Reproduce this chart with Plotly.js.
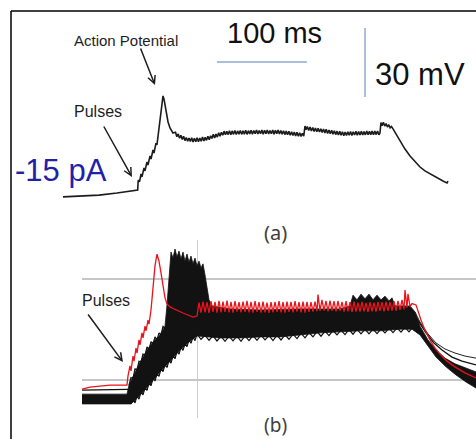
<!DOCTYPE html>
<html><head><meta charset="utf-8">
<script src="https://cdn.plot.ly/plotly-3.0.1.min.js"></script>
<style>html,body{margin:0;padding:0;background:#fff;}#chart{width:476px;height:439px;}</style>
</head><body><div id="chart"></div>
<script>
// ---------- Panel (a): single recording, [time (ms), membrane potential (mV)]
const aRecording = [
 [0,-70.4],[20,-70.0],[40,-69.6],[60,-68.7],[80,-67.8],[83,-67.4],[83.5,-63.5],[83.9,-63.0],[85.0,-63.9],[86.7,-60.4],[87.8,-61.7],
 [90.0,-57.8],[91.1,-59.1],[93.3,-55.2],[94.4,-56.5],[96.7,-52.6],[97.8,-53.9],[100,-50.0],[101.1,-51.3],[103.3,-47.0],[104.4,-47.8],
 [105.6,-43.5],[107.8,-36.1],[110,-29.1],[111.1,-26.5],[112.2,-27.8],[114.4,-33.5],[116.7,-37.8],[118.9,-40.4],[122.2,-42.6],
 [125,-42.3],[126.5,-44.2],[128,-43.0],[129.5,-44.9],[131,-43.6],[132.5,-45.4],[134,-44.0],[135.5,-45.9],[137,-44.6],[138.5,-46.2],
 [140,-44.8],[141.5,-46.3],[143,-44.7],[144.5,-46.5],[146,-44.9],[147.5,-46.4],[149,-44.7],[150.5,-46.4],[152,-44.8],[153.5,-46.2],
 [155,-44.4],[156.5,-46.1],[158,-44.5],[159.5,-45.8],[161,-44.0],[162.5,-45.5],[164,-43.8],[165.5,-45.0],[167,-43.2],[168.5,-44.8],
 [170,-43.1],[171.5,-44.4],[173,-42.5],[174.5,-44.0],[176,-42.3],[177.5,-43.6],[179,-41.8],[180.5,-43.4],[182,-41.9],[183.5,-43.3],
 [185,-41.6],[186.5,-43.4],[188,-41.7],[189.5,-43.2],[191,-41.5],[192.5,-43.3],[194,-41.7],[195.5,-43.1],[197,-41.5],[198.5,-43.2],
 [200,-41.7],[201.5,-43.1],[203,-41.4],[204.5,-43.2],[206,-41.6],[207.5,-43.0],[209,-41.4],[210.5,-43.1],[212,-41.5],[213.5,-42.9],
 [215,-41.3],[216.5,-43.0],[218,-41.5],[219.5,-42.9],[221,-41.3],[222.5,-43.1],[224,-41.4],[225.5,-42.9],[227,-41.3],[228.5,-43.0],
 [230,-41.5],[231.5,-42.9],[233,-41.3],[234.5,-43.1],[236,-41.4],[237.5,-42.9],[239,-41.3],[240.5,-43.0],[242,-41.5],[243.5,-43.1],
 [245,-41.6],[246.5,-43.3],[248,-41.8],[249.5,-43.4],[251,-41.9],[252.5,-43.6],[254,-42.1],[255.5,-43.7],[257,-42.2],[258.5,-43.9],
 [260,-42.3],[261.5,-44.0],[263,-42.5],[264.5,-44.1],[266,-42.7],[267.5,-44.0],[268.9,-39.6],
 [270,-41.2],[271.5,-39.8],[273,-41.5],[274.5,-40.0],[276,-41.7],[277.5,-40.2],[279,-41.9],[280.5,-40.5],[282,-42.1],[283.5,-40.6],
 [285,-42.2],[286.5,-40.8],[288,-42.4],[289.5,-40.9],[291,-42.6],[292.5,-41.0],[294,-42.8],[295.5,-41.3],[297,-42.9],[298.5,-41.4],
 [300,-43.1],[301.5,-41.6],[303,-43.3],[304.5,-41.8],[306,-43.5],[307.5,-41.9],[309,-43.6],[310.5,-42.1],[312,-43.8],[313.5,-42.2],
 [315,-43.7],[316.5,-42.1],[318,-43.6],[319.5,-42.0],[321,-43.7],[322.5,-42.1],[324,-43.5],[325.5,-41.9],[327,-43.6],[328.5,-42.0],
 [330,-43.5],[331.5,-41.9],[333,-43.5],[334.5,-42.0],[336,-43.4],[337.5,-41.8],[339,-43.4],[340.5,-41.9],[342,-43.3],[343.5,-41.8],
 [345,-43.4],[346.5,-41.8],[348,-43.3],[349.5,-41.7],[351,-43.4],[352.2,-42.6],
 [353.3,-38.1],[354.5,-39.4],[356,-38.0],[357.5,-39.6],[359,-38.5],[360.5,-40.0],[362,-39.0],[363.5,-40.4],[365,-39.8],[366.7,-40.8],
 [370,-43.0],[374.4,-46.1],[380,-49.6],[385.6,-52.6],[391.1,-55.2],[396.7,-57.4],[402.2,-59.1],[407.8,-60.4],[415.6,-62.2],[422.2,-63.5],[426.7,-64.3],[427.8,-63.5]
];

// Scale bars of panel (a)
const scaleMs = 100;
const scaleMv = 30;

// ---------- Panel (b): overlaid recordings, highlighted (red) recording
const redRecording = [
 [35,-67.7],[43,-67.1],[53,-66.8],[63,-66.5],[80,-66.5],[81,-63.8],[83,-60.8],[84,-62.3],[86,-57.9],[87,-59.4],[89,-55.5],[90,-57.0],
 [92,-53.1],[93,-54.6],[95,-51.0],[96,-52.5],[98,-49.0],[99,-50.4],[101,-47.2],[102,-48.4],[104,-44.2],[106,-38.3],[108,-31.1],[110,-27.6],
 [112,-29.7],[114,-33.2],[116,-37.7],[118,-40.6],[120,-42.4],[123,-43.3],[127,-43.9],[131,-44.5],[136,-45.1],[141,-45.7],[146,-46.3],[150,-46.0],
 [152,-42.0],[154,-45.0],[156,-41.7],[158,-44.9],[160,-41.9],[162,-45.1],[164,-41.6],[166,-44.8],[168,-41.8],[170,-45.0],[172,-41.5],[174,-44.9],
 [176,-41.7],[178,-44.8],[180,-41.4],[182,-44.9],[184,-41.8],[186,-45.0],[188,-41.6],[190,-44.7],[192,-41.9],[194,-44.9],[196,-41.7],[198,-44.8],
 [200,-41.5],[202,-44.9],[204,-41.8],[206,-45.0],[208,-41.6],[210,-44.8],[212,-41.9],[214,-45.0],[216,-41.7],[218,-44.9],[220,-42.0],[222,-45.1],
 [224,-41.9],[226,-44.9],[228,-41.8],[230,-44.8],[232,-41.6],[234,-44.9],[236,-41.9],[238,-45.0],[240,-41.7],[242,-44.8],[244,-41.8],[246,-44.9],
 [248,-41.6],[250,-44.7],[252,-41.9],[254,-44.9],[256,-41.7],[258,-45.0],[260,-41.8],[262,-44.8],[264,-41.9],[266,-44.7],[268,-41.7],[270,-44.6],
 [271,-39.6],[273,-44.5],[275,-41.2],[277,-44.4],[279,-41.5],[281,-44.6],[283,-41.4],[285,-44.5],[287,-41.6],[289,-44.6],[291,-41.5],[293,-44.5],
 [295,-41.8],[297,-44.7],[299,-41.6],[301,-44.6],[303,-41.9],[305,-44.8],[307,-41.7],[309,-44.7],[311,-42.0],[313,-44.7],[315,-41.8],[317,-44.6],
 [319,-42.1],[321,-44.8],[323,-41.9],[325,-44.6],[327,-42.0],[329,-44.7],[331,-41.8],[333,-44.5],[335,-41.9],[337,-44.6],[339,-41.7],[341,-44.5],
 [343,-41.8],[345,-44.4],[347,-41.6],[349,-44.4],[351,-41.5],[353,-44.2],[355,-41.2],[357,-44.0],[358,-38.3],[360,-43.5],[361,-39.4],[363,-43.2],[365,-42.3],
 [369,-42.7],[371,-44.8],[374,-47.2],[378,-50.2],[383,-53.1],[388,-55.5],[393,-57.3],[400,-59.4],[408,-61.1],[418,-62.9],[429,-64.4]
];

// envelope of the black bundle of recordings (upper edge left->right, lower edge right->left)
const bundleTime = [35,80,82,88,93,100,106,113,118,120,122,124,126,128,130,132,134,136,138,140,142,144,146,148,150,152,154,156,158,160,162,165,183,213,253,293,303,306,310,314,318,322,326,330,334,338,342,345,348,363,368,373,381,389,398,408,418,429,
 429,419,409,399,389,381,373,365,353,333,313,293,273,253,233,213,193,173,158,150,143,133,123,113,103,93,84,35];
const bundleVolt = [-69.2,-69.2,-66.5,-62.6,-59.7,-56.1,-53.7,-51.6,-49.0,-42.7,-33.8,-27.0,-28.8,-26.1,-28.5,-26.7,-29.1,-27.0,-29.7,-27.6,-30.0,-28.2,-30.5,-28.8,-31.1,-29.7,-31.7,-30.5,-33.8,-38.3,-41.2,-43.0,-43.9,-44.2,-43.9,-43.9,-43.0,-39.8,-41.2,-39.5,-40.9,-39.5,-41.2,-39.8,-41.2,-40.1,-41.5,-40.6,-43.0,-43.0,-44.8,-49.0,-53.1,-56.1,-58.5,-60.2,-61.4,-62.6,
 -67.4,-65.6,-63.5,-61.1,-58.2,-54.9,-51.6,-49.9,-49.9,-50.4,-50.4,-50.7,-51.0,-51.6,-52.2,-52.2,-52.5,-52.5,-52.2,-51.9,-53.4,-56.1,-59.4,-62.6,-66.2,-69.5,-72.1,-72.1];

// ragged lower edge of the plateau bundle
const edgeTime = [150,154,158,162,166,170,174,178,182,186,190,194,198,202,206,210,214,218,222,226,230,234,238,242,246,250,254,258,262,266,270,274,278,282,286,290,294,298,302,306,310,314,318,322,326,330,334,338,342,346,350,354,358,362,365];
const edgeVolt = [-51.4,-52.9,-51.7,-53.2,-51.9,-53.4,-52.0,-53.5,-52.0,-53.4,-52.0,-53.5,-51.9,-53.3,-51.8,-53.2,-51.7,-53.1,-51.8,-53.3,-51.7,-53.1,-51.6,-52.9,-51.4,-52.7,-51.1,-52.5,-50.9,-52.2,-50.6,-52.0,-50.5,-51.8,-50.3,-51.6,-50.2,-51.5,-50.0,-51.4,-49.9,-51.3,-49.9,-51.3,-49.9,-51.2,-49.8,-51.0,-49.6,-50.9,-49.5,-50.8,-49.4,-50.7,-49.6];

// ragged edges of the rising part of the bundle (pulse ripples)
const riseLowTime = [84,86,88,90,92,94,96,98,100,102,104,106,108,110,112,114,116,118,120,122,124,126,128,130,132,134,136,138,140,142,144,146,148,150];
const riseLowVolt = [-72.1,-70.9,-71.8,-69.8,-70.7,-68.6,-69.4,-67.3,-68.1,-65.9,-66.7,-64.5,-65.3,-63.1,-63.9,-61.7,-62.5,-60.4,-61.3,-59.1,-60.0,-57.8,-58.7,-56.5,-57.3,-55.2,-56.2,-54.2,-55.1,-53.1,-54.1,-52.2,-53.3,-51.4];
const riseHighTime = [82,84,86,88,90,92,94,96,98,100,102,104,106,108,110,112,114,116,118];
const riseHighVolt = [-66.5,-64.3,-64.5,-61.7,-62.0,-59.4,-59.8,-57.3,-57.7,-55.2,-55.9,-53.6,-54.3,-52.2,-53.1,-51.0,-51.7,-49.1,-49.6];

// separate black recordings
const baseTime = [35,60,81];
const baseVolt = [-68.0,-67.9,-67.8];
const decayATime = [363,368,373,381,389,398,408,418,429];
const decayAVolt = [-43.3,-44.8,-47.8,-51.3,-54.0,-55.8,-57.0,-57.9,-58.5];
const decayBTime = [363,371,379,387,395,405,415,429];
const decayBVolt = [-43.6,-47.2,-51.0,-54.0,-56.1,-58.2,-59.4,-60.5];

// ---------- layout helpers (pixel -> paper)
const W = 476, H = 439;
const P = px => px / W;
const Q = py => 1 - py / H;
const FONT = 'Liberation Sans, Arial, sans-serif';

const aTime = aRecording.map(p => p[0]), aVolt = aRecording.map(p => p[1]);
const redTime = redRecording.map(p => p[0]), redVolt = redRecording.map(p => p[1]);

const blk = (x, y, w, c) => ({x, y, xaxis:'x2', yaxis:'y2', mode:'lines', line:{color:c || '#111', width:w}, hoverinfo:'skip'});

const traces = [
  {x: aTime, y: aVolt, xaxis:'x', yaxis:'y', mode:'lines', line:{color:'#1c1c1c', width:1.6}, hoverinfo:'skip'},
  {x: bundleTime, y: bundleVolt, xaxis:'x2', yaxis:'y2', mode:'lines', fill:'toself', fillcolor:'#121212', line:{color:'#121212', width:0.8}, hoverinfo:'skip'},
  blk(edgeTime, edgeVolt, 1.2),
  blk(riseLowTime, riseLowVolt, 1.2),
  blk(riseHighTime, riseHighVolt, 1.2),
  blk(baseTime, baseVolt, 1.2),
  blk(decayATime, decayAVolt, 1, '#222'),
  blk(decayBTime, decayBVolt, 1.3),
  {x: redTime, y: redVolt, xaxis:'x2', yaxis:'y2', mode:'lines', line:{color:'#e8141c', width:1.3}, hoverinfo:'skip'}
];

const barT0 = 171, barV = -11.7, vbarT = 335.6, vbarV0 = -27.0;
const arrowStyle = {text:'', showarrow:true, arrowhead:5, arrowsize:1, arrowwidth:1.5, arrowcolor:'#1e1e1e', standoff:0, startstandoff:0, axref:'pixel', ayref:'pixel', xref:'paper', yref:'paper'};

const layout = {
  width: W, height: H,
  margin: {l:0, r:0, t:0, b:0, pad:0},
  paper_bgcolor: '#ffffff', plot_bgcolor: 'rgba(0,0,0,0)',
  showlegend: false,
  xaxis: {domain:[0,1], range:[-70, 458.9], visible:false, fixedrange:true},
  yaxis: {domain:[0.5,1], range:[-80.217, 15.217], visible:false, fixedrange:true},
  xaxis2: {domain:[82/W, 1], range:[35, 429], anchor:'y2', showgrid:true, gridcolor:'#cfcfcf', gridwidth:1,
           tickvals:[150], showticklabels:false, ticks:'', zeroline:false, showline:false, fixedrange:true},
  yaxis2: {domain:[21/H, 199/H], range:[-76.286, -23.42], anchor:'x2', showgrid:true, gridcolor:'#c6c6c6', gridwidth:1.5,
           tickvals:[-65, -35], showticklabels:false, ticks:'', zeroline:false, showline:false, fixedrange:true},
  shapes: [
    {type:'line', xref:'paper', yref:'paper', x0:P(11), y0:Q(11), x1:1.05, y1:Q(11), line:{color:'#000', width:1.5}},
    {type:'line', xref:'paper', yref:'paper', x0:P(11), y0:Q(11), x1:P(11), y1:-0.05, line:{color:'#000', width:1.5}},
    {type:'line', xref:'x', yref:'y', x0:barT0, x1:barT0 + scaleMs, y0:barV, y1:barV, line:{color:'#8eaad0', width:1.5}},
    {type:'line', xref:'x', yref:'y', x0:vbarT, x1:vbarT, y0:vbarV0, y1:vbarV0 + scaleMv, line:{color:'#8eaad0', width:1.5}}
  ],
  annotations: [
    {xref:'paper', yref:'paper', x:P(126), y:Q(40), text:'Action Potential', showarrow:false, xanchor:'center', yanchor:'middle', font:{family:FONT, size:15, color:'#1e1e1e'}},
    {xref:'paper', yref:'paper', x:P(274), y:Q(33), text:'100 ms', showarrow:false, xanchor:'center', yanchor:'middle', font:{family:FONT, size:29, color:'#111'}},
    {xref:'paper', yref:'paper', x:P(420), y:Q(74), text:'30 mV', showarrow:false, xanchor:'center', yanchor:'middle', font:{family:FONT, size:31, color:'#111'}},
    {xref:'paper', yref:'paper', x:P(61), y:Q(171), text:'-15 pA', showarrow:false, xanchor:'center', yanchor:'middle', font:{family:FONT, size:31, color:'#1f22a6'}},
    {xref:'paper', yref:'paper', x:P(98), y:Q(111), text:'Pulses', showarrow:false, xanchor:'center', yanchor:'middle', font:{family:FONT, size:16, color:'#1e1e1e'}},
    {xref:'paper', yref:'paper', x:P(275), y:Q(232), text:'(a)', showarrow:false, xanchor:'center', yanchor:'middle', font:{family:'Noto Sans, sans-serif', size:20, color:'#404040'}},
    {xref:'paper', yref:'paper', x:P(106), y:Q(300), text:'Pulses', showarrow:false, xanchor:'center', yanchor:'middle', font:{family:FONT, size:16, color:'#1e1e1e'}},
    {xref:'paper', yref:'paper', x:P(275), y:Q(425), text:'(b)', showarrow:false, xanchor:'center', yanchor:'middle', font:{family:'Noto Sans, sans-serif', size:19, color:'#404040'}},
    Object.assign({}, arrowStyle, {x:P(155), y:Q(85), ax:140-155, ay:47-85}),
    Object.assign({}, arrowStyle, {x:P(132), y:Q(177), ax:103-132, ay:125-177}),
    Object.assign({}, arrowStyle, {x:P(123), y:Q(362), ax:87-123, ay:313-362})
  ]
};

Plotly.newPlot('chart', traces, layout, {displayModeBar:false, staticPlot:true, responsive:false});
</script></body></html>
